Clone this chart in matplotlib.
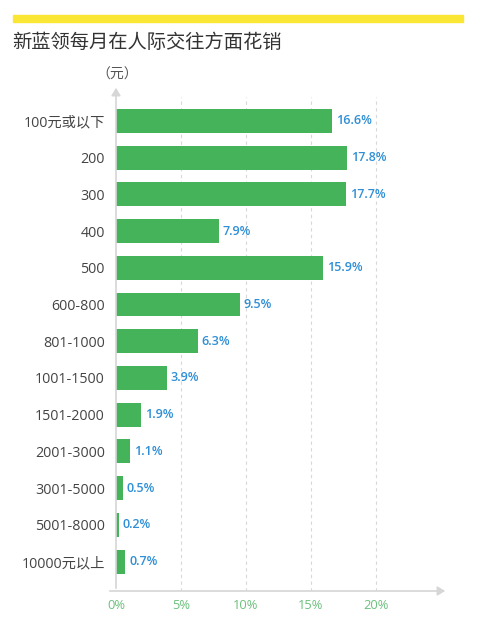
import matplotlib
matplotlib.use("Agg")
import matplotlib.pyplot as plt
from matplotlib.patches import Rectangle, FancyArrowPatch

plt.rcParams['font.family'] = ['Open Sans', 'Noto Sans CJK SC', 'DejaVu Sans']

categories = ["100元或以下", "200", "300", "400", "500", "600-800", "801-1000",
              "1001-1500", "1501-2000", "2001-3000", "3001-5000", "5001-8000", "10000元以上"]
values = [16.6, 17.8, 17.7, 7.9, 15.9, 9.5, 6.3, 3.9, 1.9, 1.1, 0.5, 0.2, 0.7]
xticks = [0, 5, 10, 15, 20]
xticklabels = ["0%", "5%", "10%", "15%", "20%"]
title = "新蓝领每月在人际交往方面花销"
unit = "（元）"

W, H = 480, 624
fig = plt.figure(figsize=(W / 100, H / 100), dpi=100)
fig.patch.set_facecolor("white")

def fx(px):
    return px / W

def fy(py):
    return 1 - py / H

cjk = ['Noto Sans CJK SC', 'DejaVu Sans']

# yellow top strip
fig.patches.append(Rectangle((fx(13), fy(22)), fx(463) - fx(13), fy(15) - fy(22),
                             transform=fig.transFigure, color="#fae634", zorder=0))
fig.text(fx(12), fy(42), title, fontsize=13.9, color="#333333", va="center", ha="left",
         family=cjk)
fig.text(fx(117), fy(75), unit, fontsize=10, color="#555555", va="center", ha="center",
         family=cjk)

ax = fig.add_axes([fx(116), fy(591), fx(441) - fx(116), fy(97) - fy(591)])
ypos = list(range(len(categories)))
ax.barh(ypos, values, height=0.65, color="#45b35a", zorder=2)
for y, v in zip(ypos, values):
    ax.text(v + 0.3, y, f"{v}%", va="center", ha="left", fontsize=9,
            color="#2e8fd6", fontweight="semibold", zorder=3)

ax.set_xlim(0, 25)
ax.set_ylim(12.8, -0.65)
ax.set_yticks(ypos)
ax.set_yticklabels(categories, fontsize=10.3, color="#444444")
ax.set_xticks(xticks)
ax.set_xticklabels(xticklabels, fontsize=9.3, color="#6cc07c")
ax.tick_params(axis="both", length=0)
ax.tick_params(axis="y", pad=8)
ax.tick_params(axis="x", pad=6)
for s in ax.spines.values():
    s.set_visible(False)
for t in xticks[1:]:
    ax.axvline(t, color="#d8d8d8", linestyle=(0, (3, 3)), linewidth=0.8, zorder=1)

# axes with arrows
fig.add_artist(FancyArrowPatch(
    (fx(107), fy(591)), (fx(448), fy(591)), transform=fig.transFigure,
    arrowstyle="-|>,head_length=3,head_width=1.8", color="#d6d6d6", linewidth=1.2,
    mutation_scale=1.5))
fig.add_artist(FancyArrowPatch(
    (fx(116), fy(591)), (fx(116), fy(85)), transform=fig.transFigure,
    arrowstyle="-|>,head_length=3,head_width=1.8", color="#d6d6d6", linewidth=1.2,
    mutation_scale=1.5))

fig.savefig("out.png", dpi=100)
